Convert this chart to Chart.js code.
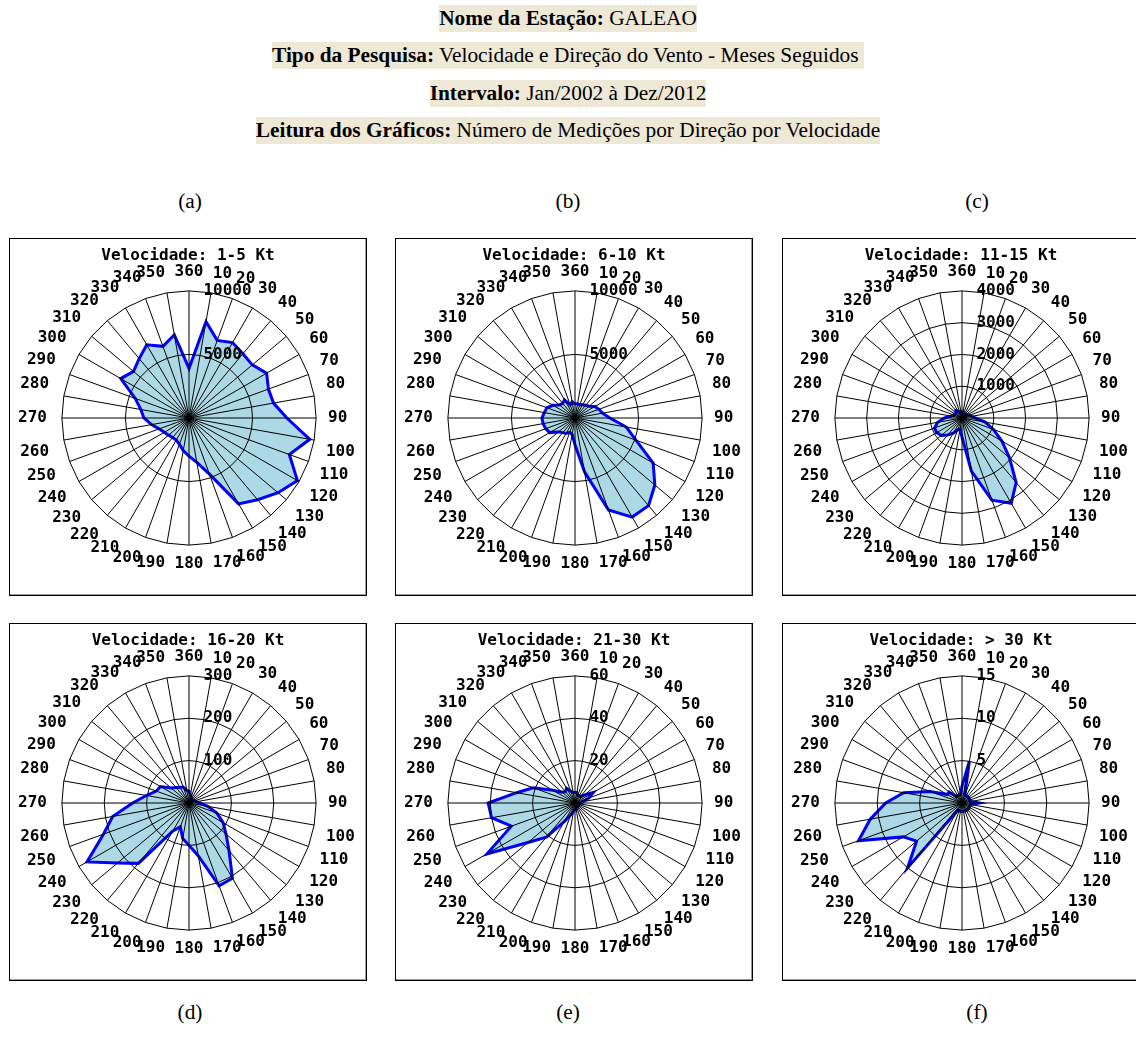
<!DOCTYPE html>
<html>
<head>
<meta charset="utf-8">
<script src="https://cdn.jsdelivr.net/npm/chart.js@4"></script>
<style>
  body { margin:0; width:1136px; height:1039px; background:#fff; position:relative; overflow:hidden;
         font-family:"Liberation Serif","Times New Roman",serif; color:#000; }
  .hdr { position:absolute; left:0; width:1136px; text-align:center; font-size:21.33px; }
  .hdr span { display:inline-block; background:#eee8d6; line-height:27px; }
  .tag { position:absolute; width:100px; margin-left:-50px; text-align:center; font-size:21.33px; line-height:24px; }
  .panel { position:absolute; width:356px; height:356px; border:1px solid #000; background:#fff;
           box-shadow: inset -1px -1px 0 #999; }
  .panel canvas { position:absolute; left:0; top:0; }
  .ptitle { position:absolute; left:0; top:6px; width:356px; text-align:center; z-index:2;
            font:bold 16px "DejaVu Sans Mono", monospace; line-height:19px; }
</style>
</head>
<body>

<div class="hdr" style="top:5px"><span><b>Nome da Estação:</b> GALEAO</span></div>
<div class="hdr" style="top:42px"><span><b>Tipo da Pesquisa:</b> Velocidade e Direção do Vento - Meses Seguidos&nbsp;</span></div>
<div class="hdr" style="top:80px"><span><b>Intervalo:</b> Jan/2002 à Dez/2012</span></div>
<div class="hdr" style="top:117px"><span><b>Leitura dos Gráficos:</b> Número de Medições por Direção por Velocidade</span></div>

<div class="tag" style="left:190px;top:189px">(a)</div>
<div class="tag" style="left:568px;top:189px">(b)</div>
<div class="tag" style="left:977px;top:189px">(c)</div>
<div class="tag" style="left:190px;top:1000px">(d)</div>
<div class="tag" style="left:568px;top:1000px">(e)</div>
<div class="tag" style="left:977px;top:1000px">(f)</div>

<div class="panel" style="left:9px;top:238px"><div class="ptitle">Velocidade: 1-5 Kt</div><canvas id="rose1" width="356" height="356"></canvas></div>
<div class="panel" style="left:395px;top:238px"><div class="ptitle">Velocidade: 6-10 Kt</div><canvas id="rose2" width="356" height="356"></canvas></div>
<div class="panel" style="left:782px;top:238px"><div class="ptitle">Velocidade: 11-15 Kt</div><canvas id="rose3" width="356" height="356"></canvas></div>
<div class="panel" style="left:9px;top:623px"><div class="ptitle">Velocidade: 16-20 Kt</div><canvas id="rose4" width="356" height="356"></canvas></div>
<div class="panel" style="left:395px;top:623px"><div class="ptitle">Velocidade: 21-30 Kt</div><canvas id="rose5" width="356" height="356"></canvas></div>
<div class="panel" style="left:782px;top:623px"><div class="ptitle">Velocidade: &gt; 30 Kt</div><canvas id="rose6" width="356" height="356"></canvas></div>

<script>
// directions, clockwise from north
const directions = ['360','10','20','30','40','50','60','70','80','90','100','110',
  '120','130','140','150','160','170','180','190','200','210','220','230',
  '240','250','260','270','280','290','300','310','320','330','340','350'];

// number of measurements per direction, one array per speed band
const speed1to5 = [3900, 7700, 6500, 6850, 6600, 6500, 7050, 6650, 6750, 7700, 9650, 8400,
  9850, 9150, 8400, 7800, 4700, 3550, 3000, 2600, 2200, 2000, 2000, 2100,
  2250, 2500, 3000, 3550, 3850, 4500, 6200, 5700, 6100, 6650, 6000, 6650];
const speed6to10 = [1100, 1150, 1100, 1200, 1300, 1450, 1800, 2000, 2200, 2750, 4100, 5100,
  7100, 8200, 9000, 9000, 7700, 4300, 2100, 1300, 1200, 1400, 1500, 1700,
  2300, 2450, 2550, 2600, 2450, 2350, 2000, 1600, 1500, 1650, 1100, 1300];
const speed11to15 = [200, 180, 150, 150, 150, 150, 200, 250, 300, 420, 740, 1050,
  1450, 1950, 2650, 3100, 2750, 1700, 600, 350, 400, 550, 700, 850,
  920, 920, 780, 550, 350, 280, 250, 250, 300, 250, 200, 200];
const speed16to20 = [28, 20, 15, 12, 10, 10, 12, 15, 18, 25, 45, 70,
  93, 114, 147, 205, 208, 127, 100, 85, 60, 76, 186, 220,
  278, 215, 183, 133, 102, 82, 78, 55, 48, 42, 40, 30];
const speed21to30 = [5, 5, 4, 4, 4, 6, 10, 7, 4, 3, 2, 2,
  2, 2, 2, 2, 2, 3, 3, 4, 6, 10, 21, 29,
  48, 32, 40, 41, 28, 21, 12, 8, 7, 8, 6, 5];
const speedOver30 = [2, 5, 1, 1, 1, 1, 1, 1, 1, 2, 1, 1,
  1, 1, 1, 1, 1, 1, 1, 1, 1, 1, 10, 7,
  8, 13, 11, 9, 7, 4, 2, 2, 1, 1, 1, 1];

// radial axis of each panel
const axisMax  = [10000, 10000, 4000, 300, 60, 15];
const axisStep = [5000, 5000, 1000, 100, 20, 5];

const labelFont = { family: 'DejaVu Sans Mono', weight: 'bold', size: 16 };

function drawRose(canvasId, values, max, step) {
  new Chart(document.getElementById(canvasId), {
    type: 'radar',
    data: {
      labels: directions,
      datasets: [{
        data: values,
        fill: true,
        backgroundColor: '#add8e6',
        borderColor: '#0000ff',
        borderWidth: 3,
        pointRadius: 0,
        pointHoverRadius: 0,
        tension: 0
      }]
    },
    options: {
      responsive: false,
      animation: false,
      devicePixelRatio: 1,
      layout: { padding: { left: 6, right: 8, top: 8, bottom: 6 } },
      plugins: { legend: { display: false }, tooltip: { enabled: false } },
      scales: {
        r: {
          min: 0,
          max: max,
          ticks: {
            stepSize: step,
            color: '#000',
            font: labelFont,
            showLabelBackdrop: false,
            backdropPadding: 0,
            z: 2,
            // labels sit just right of the north axis
            callback: v => ' '.repeat(String(v).length + 3) + v
          },
          grid: { color: '#000', lineWidth: 1, z: 1 },
          angleLines: { color: '#000', lineWidth: 1 },
          pointLabels: {
            color: '#000',
            font: labelFont,
            // closer at top/bottom, a bit further out on the west side
            padding: ctx => {
              const s = Math.abs(Math.sin(ctx.index * Math.PI / 18));
              return 1.5 + s * (ctx.index > 0 && ctx.index < 18 ? 2.5 : 5.5);
            }
          }
        }
      }
    }
  });
}

drawRose('rose1', speed1to5,   axisMax[0], axisStep[0]);
drawRose('rose2', speed6to10,  axisMax[1], axisStep[1]);
drawRose('rose3', speed11to15, axisMax[2], axisStep[2]);
drawRose('rose4', speed16to20, axisMax[3], axisStep[3]);
drawRose('rose5', speed21to30, axisMax[4], axisStep[4]);
drawRose('rose6', speedOver30, axisMax[5], axisStep[5]);
</script>
</body>
</html>
